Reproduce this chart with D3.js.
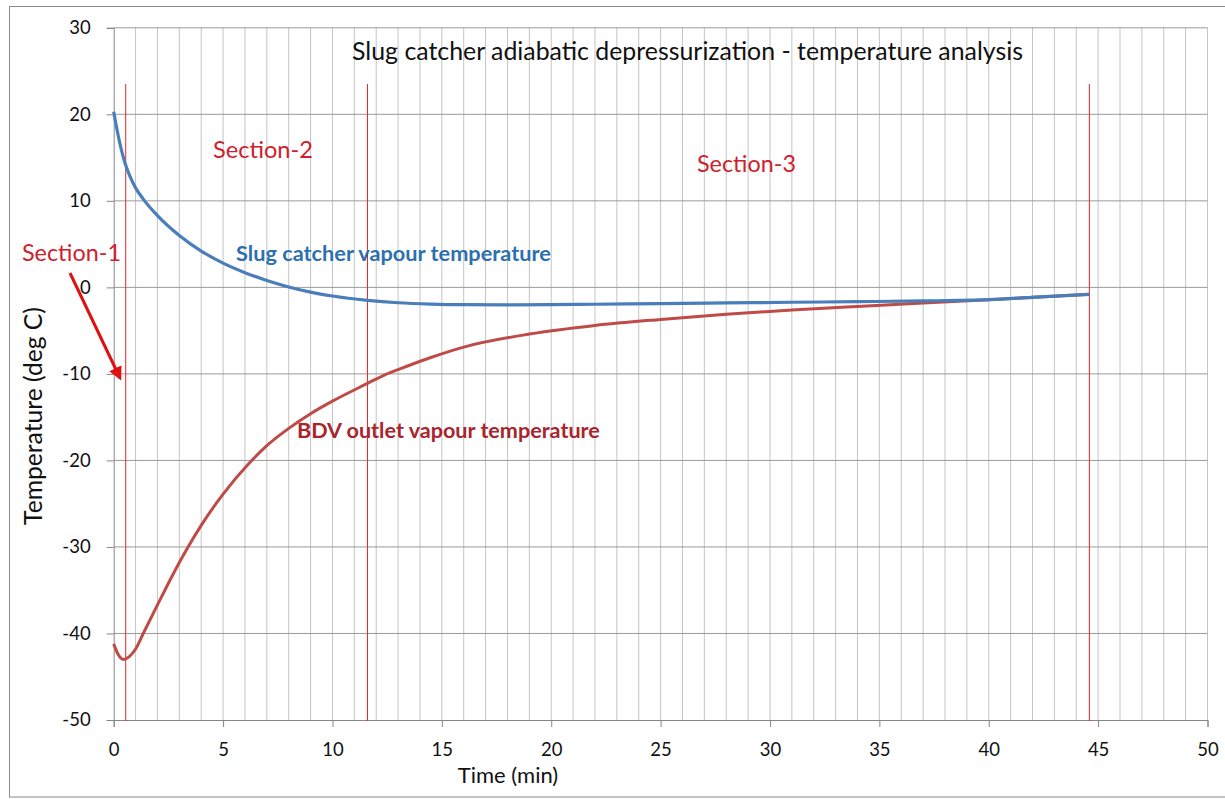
<!DOCTYPE html>
<html>
<head>
<meta charset="utf-8">
<script src="https://cdn.jsdelivr.net/npm/d3@7"></script>
<style>
  html, body { margin: 0; padding: 0; background: #fff; }
  svg { display: block; font-family: Lato, "Open Sans", sans-serif; }
</style>
</head>
<body>
<svg id="chart" width="1225" height="799"></svg>
<script>
// ---- data ----
const title = "Slug catcher adiabatic depressurization - temperature analysis";
const xLabel = "Time (min)";
const yLabel = "Temperature (deg C)";
const xTicks = [0, 5, 10, 15, 20, 25, 30, 35, 40, 45, 50];
const yTicks = [30, 20, 10, 0, -10, -20, -30, -40, -50];
const slugTime = [0, 0.25, 0.5, 0.75, 1, 1.35, 2, 3, 4, 5, 6, 7, 8, 9, 10, 11.6, 13, 14.5, 16, 18, 20, 22, 25, 28, 31, 34, 37, 40, 42, 44.6];
const slugTemp = [20.3, 17.0, 14.5, 12.8, 11.5, 10.2, 8.3, 6.0, 4.2, 2.8, 1.7, 0.8, 0.05, -0.55, -1.0, -1.5, -1.78, -1.93, -2.0, -2.02, -2.0, -1.95, -1.88, -1.8, -1.72, -1.65, -1.57, -1.42, -1.15, -0.8];
const bdvTime = [0, 0.2, 0.45, 0.7, 1, 1.35, 2, 2.5, 3, 3.4, 4, 5, 6.2, 7, 8, 9, 10, 11.6, 12.4, 13, 14.5, 16, 19, 22, 25, 28, 31, 34, 37, 40, 42, 44.6];
const bdvTemp = [-41.2, -42.4, -43.0, -42.7, -41.8, -40.0, -36.7, -34.2, -31.8, -30.0, -27.5, -23.9, -20.3, -18.3, -16.3, -14.6, -13.15, -11.1, -10.1, -9.5, -8.1, -6.9, -5.4, -4.4, -3.7, -3.1, -2.62, -2.2, -1.8, -1.42, -1.15, -0.8];
const sectionTimes = [0.55, 11.6, 44.6];
const sectionTop = 23.5;
const sectionNames = ["Section-1", "Section-2", "Section-3"];
const seriesNames = ["Slug catcher vapour temperature", "BDV outlet vapour temperature"];

// ---- layout ----
const svg = d3.select("#chart");
const pLeft = 113.7, pRight = 1207.5, pTop = 27.8, pBottom = 720;
const x = d3.scaleLinear().domain([0, 50]).range([pLeft, pRight]);
const y = d3.scaleLinear().domain([-50, 30]).range([pBottom, pTop]);

function fitWidth(sel, w) {
  sel.each(function() {
    const cur = this.getComputedTextLength();
    const fs = parseFloat(getComputedStyle(this).fontSize);
    if (cur > 0) d3.select(this).style("font-size", (fs * w / cur).toFixed(2) + "px");
  });
}

// outer frame
svg.append("rect").attr("x", 9.5).attr("y", 6.5).attr("width", 1225).attr("height", 790.5)
  .attr("fill", "#fff").attr("stroke", "#8a8a8a").attr("stroke-width", 1);

// minor vertical gridlines every minute
svg.append("g").selectAll("line").data(d3.range(1, 51)).join("line")
  .attr("x1", d => x(d)).attr("x2", d => x(d)).attr("y1", pTop).attr("y2", pBottom)
  .attr("stroke", "#c4c4c4").attr("stroke-width", 1);

// horizontal gridlines
svg.append("g").selectAll("line").data(yTicks.filter(v => v !== -50)).join("line")
  .attr("x1", pLeft).attr("x2", pRight).attr("y1", d => y(d)).attr("y2", d => y(d))
  .attr("stroke", "#9a9a9a").attr("stroke-width", 1);

// axes
const fmt = d => String(d);
const yAxis = svg.append("g").attr("transform", `translate(${pLeft},0)`)
  .call(d3.axisLeft(y).tickValues(yTicks).tickFormat(fmt).tickSize(7).tickPadding(16));
const xAxis = svg.append("g").attr("transform", `translate(0,${pBottom})`)
  .call(d3.axisBottom(x).tickValues(xTicks).tickFormat(fmt).tickSize(7).tickPadding(16));
[yAxis, xAxis].forEach(a => {
  a.select(".domain").attr("stroke", "#868686");
  a.selectAll(".tick line").attr("stroke", "#868686");
  a.selectAll(".tick text").attr("fill", "#111").style("font-size", "18.5px")
    .style("font-family", "Lato, sans-serif");
});

// section lines
svg.append("g").selectAll("line").data(sectionTimes).join("line")
  .attr("x1", d => x(d)).attr("x2", d => x(d)).attr("y1", y(sectionTop)).attr("y2", pBottom + 1)
  .attr("stroke", "#e02626").attr("stroke-width", 1);

// series lines
const line = d3.line().x(d => x(d[0])).y(d => y(d[1])).curve(d3.curveMonotoneX);
svg.append("path").datum(bdvTime.map((t, i) => [t, bdvTemp[i]]))
  .attr("d", line).attr("fill", "none").attr("stroke", "#be4b48").attr("stroke-width", 3);
svg.append("path").datum(slugTime.map((t, i) => [t, slugTemp[i]]))
  .attr("d", line).attr("fill", "none").attr("stroke", "#4a7ebb").attr("stroke-width", 3.2);

// title
svg.append("text").attr("x", 687.5).attr("y", 60).attr("text-anchor", "middle")
  .style("font-size", "21px").attr("fill", "#111").text(title).call(fitWidth, 671);

// section labels
const secPos = [[22, 261, 99], [213, 158, 100], [697, 172, 99]];
svg.append("g").selectAll("text").data(sectionNames).join("text")
  .attr("x", (d, i) => secPos[i][0]).attr("y", (d, i) => secPos[i][1]).attr("fill", "#d0202c")
  .style("font-size", "22px").text(d => d)
  .each(function(d, i) { d3.select(this).call(fitWidth, secPos[i][2]); });

// series labels
const serPos = [[236, 261, 315, "#2e6fae"], [297, 438, 303, "#a8252c"]];
svg.append("g").selectAll("text").data(seriesNames).join("text")
  .attr("x", (d, i) => serPos[i][0]).attr("y", (d, i) => serPos[i][1]).attr("fill", (d, i) => serPos[i][3])
  .style("font-size", "17px").style("font-weight", "bold").text(d => d)
  .each(function(d, i) { d3.select(this).call(fitWidth, serPos[i][2]); });

// arrow
const defs = svg.append("defs");
defs.append("marker").attr("id", "arrowHead").attr("viewBox", "0 0 10 10")
  .attr("refX", 8).attr("refY", 5).attr("markerWidth", 4.5).attr("markerHeight", 4.5)
  .attr("orient", "auto").append("path").attr("d", "M0,0 L10,5 L0,10 Z").attr("fill", "#e01010");
svg.append("line").attr("x1", 70).attr("y1", 273).attr("x2", 120).attr("y2", 378)
  .attr("stroke", "#e01010").attr("stroke-width", 3).attr("marker-end", "url(#arrowHead)");

// axis titles
svg.append("text").attr("x", 508).attr("y", 783).attr("text-anchor", "middle")
  .style("font-size", "22px").attr("fill", "#111").text(xLabel);
svg.append("text").attr("transform", "translate(42,416) rotate(-90)").attr("text-anchor", "middle")
  .style("font-size", "20px").attr("fill", "#111").text(yLabel).call(fitWidth, 218);
</script>
</body>
</html>
